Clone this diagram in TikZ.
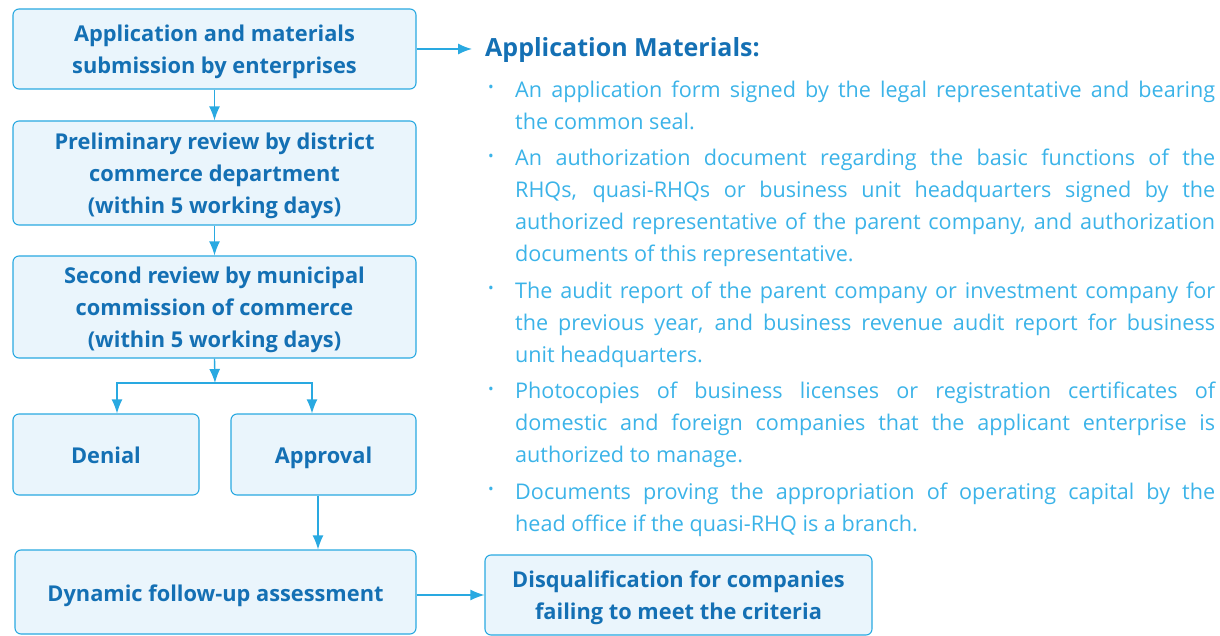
\documentclass[tikz,border=0pt]{standalone}
\usepackage{fontspec}
\setmainfont{Open Sans}
\usetikzlibrary{arrows.meta}
\definecolor{boxline}{HTML}{29A9E1}
\definecolor{boxfill}{HTML}{EAF5FC}
\definecolor{boxtext}{HTML}{1470B4}
\definecolor{bodytext}{HTML}{3BB3E8}
\tikzset{
  flowbox/.style={draw=boxline, fill=boxfill, line width=1.1pt, rounded corners=6pt,
    text=boxtext, align=center, inner sep=0pt,
    font=\fontsize{21.8}{32}\selectfont\bfseries,
    execute at begin node=\rule{0pt}{28.4pt}, execute at end node=\strut},
  twoline/.style={flowbox, text height=58pt, text depth=9.6pt},
  threeline/.style={flowbox, text height=90pt, text depth=9.6pt},
  arr/.style={draw=boxline, line width=1.4pt, -{Latex[length=14pt,width=11pt]}}
}
\newcommand{\bul}{\leavevmode\llap{\makebox[27pt][l]{\textcolor{bodytext}{\raisebox{0.2em}{\scalebox{0.7}{\textbullet}}}}}}
\begin{document}
\begin{tikzpicture}[x=1pt,y=-1pt]
\useasboundingbox (0,0) rectangle (1220,636);
\node[twoline, minimum width=403, minimum height=80] (b1) at (214.5,49)
  {Application and materials\\submission by enterprises};
\node[threeline, minimum width=403, minimum height=104] (b2) at (214.5,173)
  {Preliminary review by district\\commerce department\\(within 5 working days)};
\node[threeline, minimum width=403, minimum height=102] (b3) at (214.5,307)
  {Second review by municipal\\commission of commerce\\(within 5 working days)};
\node[flowbox, minimum width=186, minimum height=81] (den) at (106,454.5) {Denial};
\node[flowbox, minimum width=185, minimum height=81] (app) at (323.5,454.5) {Approval};
\node[flowbox, minimum width=401, minimum height=84] (dyn) at (215.5,592)
  {Dynamic follow-up assessment};
\node[twoline, minimum width=387, minimum height=80] (dis) at (678.5,595)
  {Disqualification for companies\\failing to meet the criteria};
\node[anchor=west, inner sep=0pt, text=boxtext, font=\fontsize{25}{30}\selectfont\bfseries] (head) at (485,50) {Application Materials:};
\node[anchor=north west, inner sep=0pt, text width=700pt, text=bodytext, align=justify,
  font=\fontsize{21.6}{32}\selectfont] (mat) at (515,80.5) {%
\setlength{\parskip}{4.5pt}%
\bul An application form signed by the legal representative and bearing\linebreak the common seal.\par
\bul An authorization document regarding the basic functions of the\linebreak RHQs, quasi-RHQs or business unit headquarters signed by the\linebreak authorized representative of the parent company, and authorization\linebreak documents of this representative.\par
\bul The audit report of the parent company or investment company for\linebreak the previous year, and business revenue audit report for business\linebreak unit headquarters.\par
\bul Photocopies of business licenses or registration certificates of\linebreak domestic and foreign companies that the applicant enterprise is\linebreak authorized to manage.\par
\bul Documents proving the appropriation of operating capital by the\linebreak head office if the quasi-RHQ is a branch.\par};
\coordinate (split) at (215,383);
\draw[arr, shorten >=13pt] (b1.east) -- (b1.east -| head.west);
\draw[arr] (b1.south) -- (b2.north);
\draw[arr] (b2.south) -- (b3.north);
\draw[arr] (b3.south) -- (split);
\draw[arr] (split) -| ([xshift=11pt]den.north);
\draw[arr] (split) -| ([xshift=-11.5pt]app.north);
\draw[arr] ([xshift=-5.5pt]app.south) -- ([xshift=-5.5pt]app.south |- dyn.north);
\draw[arr] (dyn.east |- dis.west) -- (dis.west);
\end{tikzpicture}
\end{document}
